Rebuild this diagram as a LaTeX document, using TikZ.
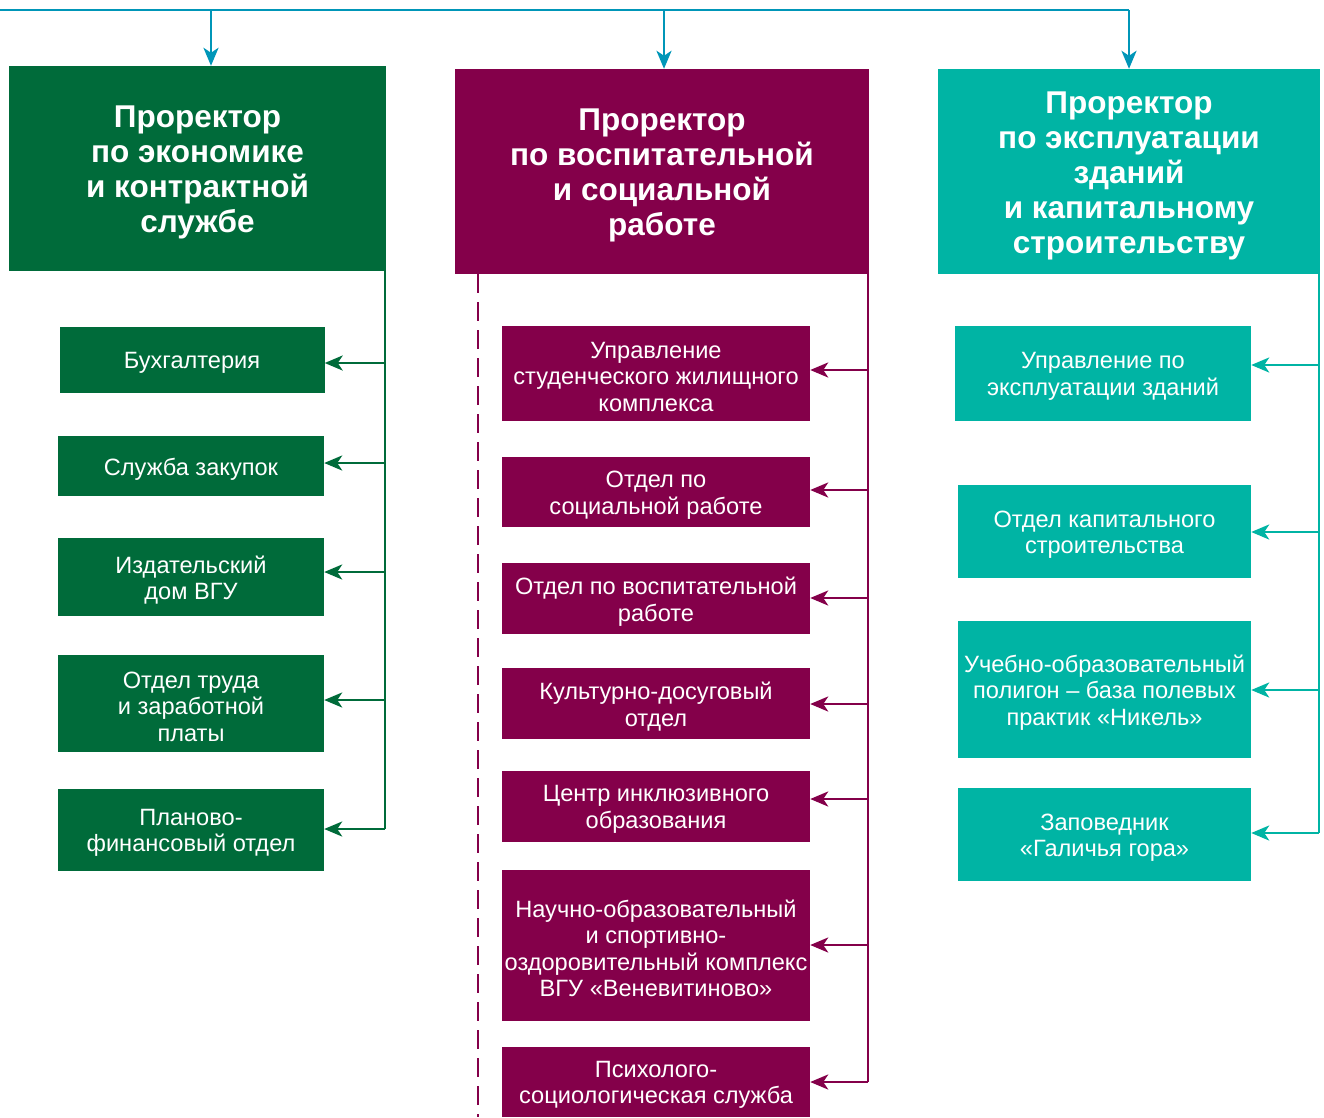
\documentclass[tikz,border=0pt]{standalone}
\usepackage{fontspec}
\setmainfont{Liberation Sans}
\usetikzlibrary{arrows.meta}
\definecolor{cgreen}{RGB}{0,107,58}
\definecolor{cpurple}{RGB}{132,0,74}
\definecolor{cteal}{RGB}{0,180,164}
\definecolor{cblue}{RGB}{0,150,184}
\tikzset{
  box/.style={fill=#1, inner sep=0pt},
  headtext/.style={text=white, inner sep=0pt, align=center, yshift=-4pt, font=\bfseries\fontsize{31.5}{35}\selectfont},
  subtext/.style={text=white, inner sep=0pt, align=center, yshift=-3pt, font=\fontsize{23.6}{26.5}\selectfont},
  conn/.style={draw=#1, line width=2.8pt, -{Stealth[length=18pt,width=15pt,inset=5pt]}},
  vline/.style={draw=#1, line width=2.8pt}
}
\newcommand\mkhead[6]{\node[box=#1, minimum width=#2, minimum height=#3, label={[headtext]center:{#6}}] (#4) at #5 {};}
\newcommand\mksub[6]{\node[box=#1, minimum width=#2, minimum height=#3, label={[subtext]center:{#6}}] (#4) at #5 {};}
\begin{document}
\begin{tikzpicture}[x=1pt,y=-1pt]
\useasboundingbox (0,0) rectangle (1324,1117);
% headers
\mkhead{cgreen}{377pt}{205pt}{gh}{(197.5,168.5)}{Проректор\\по экономике\\и контрактной\\службе}
\mkhead{cpurple}{414pt}{205pt}{ph}{(662,171.5)}{Проректор\\по воспитательной\\и социальной\\работе}
\mkhead{cteal}{382pt}{205pt}{th}{(1129,171.5)}{Проректор\\по эксплуатации\\зданий\\и капитальному\\строительству}
% green boxes
\mksub{cgreen}{265pt}{66pt}{g1}{(192,360)}{Бухгалтерия}
\mksub{cgreen}{266pt}{60pt}{g2}{(191,466)}{Служба закупок}
\mksub{cgreen}{266pt}{78pt}{g3}{(191,577)}{Издательский\\дом ВГУ}
\mksub{cgreen}{266pt}{97pt}{g4}{(191,703.5)}{Отдел труда\\и заработной\\платы}
\mksub{cgreen}{266pt}{82pt}{g5}{(191,830)}{Планово-\\финансовый отдел}
% purple boxes
\mksub{cpurple}{308pt}{95pt}{p1}{(656,373.5)}{Управление\\студенческого жилищного\\комплекса}
\mksub{cpurple}{308pt}{70pt}{p2}{(656,492)}{Отдел по\\социальной работе}
\mksub{cpurple}{308pt}{71pt}{p3}{(656,598.5)}{Отдел по воспитательной\\работе}
\mksub{cpurple}{308pt}{71pt}{p4}{(656,703.5)}{Культурно-досуговый\\отдел}
\mksub{cpurple}{308pt}{71pt}{p5}{(656,806.5)}{Центр инклюзивного\\образования}
\mksub{cpurple}{308pt}{151pt}{p6}{(656,945.5)}{Научно-образовательный\\и спортивно-\\оздоровительный комплекс\\ВГУ «Веневитиново»}
\mksub{cpurple}{308pt}{70pt}{p7}{(656,1082)}{Психолого-\\социологическая служба}
% teal boxes
\mksub{cteal}{296pt}{95pt}{t1}{(1103,373.5)}{Управление по\\эксплуатации зданий}
\mksub{cteal}{293pt}{93pt}{t2}{(1104.5,531.5)}{Отдел капитального\\строительства}
\mksub{cteal}{293pt}{137pt}{t3}{(1104.5,689.5)}{Учебно-образовательный\\полигон – база полевых\\практик «Никель»}
\mksub{cteal}{293pt}{93pt}{t4}{(1104.5,834.5)}{Заповедник\\«Галичья гора»}
% top connectors
\coordinate (tl) at (0,10);
\coordinate (tr) at (1129,10);
\draw[vline=cblue] (tl) -- (tr);
\draw[conn=cblue] (tr) -- (th.north);
\draw[conn=cblue] (211,10) -- (gh.north -| 211,0);
\draw[conn=cblue] (664,10) -- (ph.north -| 664,0);
% green spine
\coordinate (gtop) at (385,271);
\coordinate (gbot) at (385,829);
\draw[vline=cgreen] (gtop) -- (gbot);
\foreach \n/\y in {g1/363,g2/463,g3/572,g4/700,g5/829}
  \draw[conn=cgreen] (385,\y) -- (\n.east |- 0,\y);
% purple spine
\coordinate (ptop) at (868,274);
\draw[vline=cpurple] (ptop) -- (868,1082);
\foreach \n/\y in {p1/370,p2/490,p3/598,p4/704,p5/799,p6/945,p7/1082}
  \draw[conn=cpurple] (868,\y) -- (\n.east |- 0,\y);
\draw[draw=cpurple, line width=2.4pt, dash pattern=on 19pt off 9pt] (478,274) -- (478,1117);
% teal spine
\coordinate (ttop) at (1319,274);
\draw[vline=cteal] (ttop) -- (1319,833);
\foreach \n/\y in {t1/365,t2/532,t3/690,t4/833}
  \draw[conn=cteal] (1319,\y) -- (\n.east |- 0,\y);
\end{tikzpicture}
\end{document}
